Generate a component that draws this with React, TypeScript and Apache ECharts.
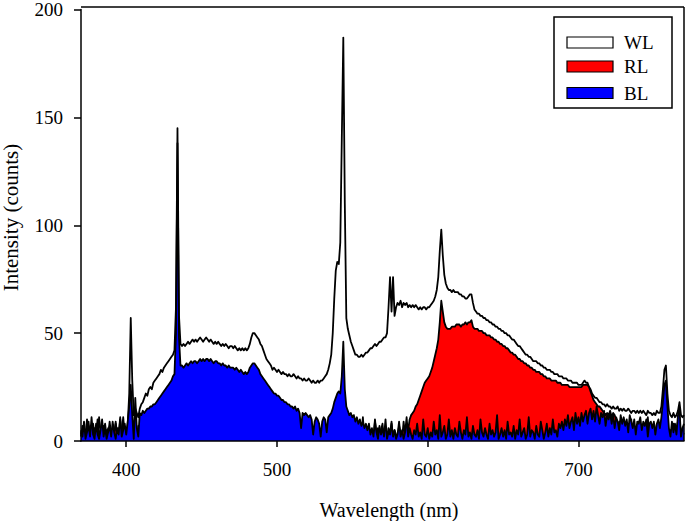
import React, { useEffect, useRef } from "react";
import * as echarts from "echarts";

// wavelength grid: first sample (nm) and step (nm)
const startNm = 370;
const stepNm = 1;
const xMin = 370;
const xMax = 770;
const xTicks = [400, 500, 600, 700];
const yMin = 0;
const yMax = 200;
const yStep = 50;
const seriesNames = ["WL", "RL", "BL"];
const xTitle = "Wavelength (nm)";
const yTitle = "Intensity (counts)";

// WL intensity, one value per nm from 370 to 770
const WL = [
  4, 1, 6, 3, 10, 2, 5, 1, 8, 3, // 370
  6, 2, 11, 4, 1, 7, 3, 5, 2, 9, // 380
  3, 6, 1, 8, 4, 2, 10, 3, 5, 2, // 390
  3, 8, 22, 57, 28, 12, 15, 13, 11, 15, // 400
  17, 18, 20, 22, 21, 24, 25, 24, 27, 28, // 410
  29, 30, 31, 33, 32, 34, 35, 36, 37, 38, // 420
  39, 40, 42, 62, 145, 58, 45, 44, 45, 44, // 430
  45, 46, 45, 46, 47, 46, 47, 46, 47, 48, // 440
  47, 46, 47, 48, 47, 46, 47, 46, 45, 46, // 450
  45, 46, 45, 44, 45, 44, 45, 44, 43, 44, // 460
  44, 43, 44, 43, 42, 43, 42, 43, 42, 43, // 470
  42, 43, 45, 48, 50, 50, 49, 48, 47, 45, // 480
  44, 42, 40, 38, 37, 36, 35, 33, 34, 33, // 490
  32, 33, 32, 31, 32, 31, 31, 30, 31, 30, // 500
  30, 31, 30, 29, 30, 29, 29, 28, 29, 28, // 510
  28, 29, 28, 27, 28, 27, 27, 28, 27, 28, // 520
  28, 29, 30, 31, 33, 36, 40, 50, 66, 79, // 530
  83, 82, 92, 140, 187, 110, 57, 52, 49, 46, // 540
  44, 42, 40, 40, 39, 39, 40, 39, 40, 41, // 550
  41, 42, 43, 43, 44, 45, 44, 45, 46, 46, // 560
  47, 48, 48, 50, 62, 76, 60, 76, 58, 62, // 570
  64, 63, 65, 62, 64, 63, 64, 62, 63, 62, // 580
  63, 62, 63, 62, 61, 62, 61, 62, 62, 61, // 590
  62, 62, 63, 64, 65, 67, 70, 76, 88, 98, // 600
  86, 77, 73, 71, 70, 70, 69, 70, 69, 69, // 610
  69, 68, 68, 67, 67, 66, 66, 67, 68, 68, // 620
  64, 61, 60, 59, 59, 58, 58, 57, 57, 56, // 630
  56, 55, 55, 54, 54, 53, 53, 52, 52, 51, // 640
  51, 50, 50, 49, 49, 48, 47, 47, 46, 45, // 650
  44, 44, 43, 42, 41, 40, 40, 39, 39, 38, // 660
  37, 37, 37, 36, 36, 35, 35, 34, 34, 33, // 670
  33, 33, 32, 32, 31, 31, 31, 30, 30, 30, // 680
  29, 29, 29, 28, 28, 28, 27, 27, 27, 27, // 690
  26, 26, 26, 27, 28, 27, 27, 25, 24, 22, // 700
  21, 20, 20, 19, 18, 18, 17, 17, 16, 17, // 710
  16, 16, 15, 16, 15, 15, 16, 14, 15, 14, // 720
  15, 14, 14, 15, 14, 13, 14, 14, 13, 14, // 730
  13, 14, 13, 14, 13, 12, 14, 13, 13, 12, // 740
  13, 12, 14, 13, 13, 16, 24, 33, 35, 22, // 750
  14, 12, 11, 13, 11, 12, 14, 18, 12, 11, // 760
  12, // 770
];

// RL intensity, one value per nm from 370 to 770
const RL = [
  2, 7, 3, 1, 5, 9, 2, 4, 1, 6, // 370
  3, 10, 2, 5, 1, 4, 8, 2, 6, 3, // 380
  1, 5, 3, 9, 2, 6, 1, 4, 11, 3, // 390
  5, 2, 12, 20, 6, 2, 4, 1, 7, 3, // 400
  2, 5, 1, 8, 3, 4, 1, 6, 2, 9, // 410
  3, 1, 5, 2, 7, 4, 1, 3, 6, 2, // 420
  4, 1, 7, 12, 30, 9, 3, 1, 5, 2, // 430
  6, 3, 1, 4, 8, 2, 5, 1, 3, 7, // 440
  2, 4, 1, 9, 3, 5, 2, 6, 1, 4, // 450
  7, 2, 3, 1, 5, 10, 2, 4, 1, 6, // 460
  3, 5, 2, 8, 1, 4, 6, 2, 3, 9, // 470
  1, 4, 2, 6, 3, 7, 1, 5, 2, 4, // 480
  8, 2, 5, 1, 3, 6, 2, 10, 4, 1, // 490
  5, 3, 7, 2, 4, 1, 9, 3, 6, 2, // 500
  4, 1, 8, 3, 5, 2, 6, 1, 4, 10, // 510
  2, 5, 3, 7, 1, 4, 9, 2, 6, 3, // 520
  1, 6, 4, 2, 8, 3, 5, 1, 7, 4, // 530
  12, 9, 8, 14, 20, 11, 6, 3, 8, 2, // 540
  5, 1, 9, 3, 6, 2, 4, 11, 1, 5, // 550
  3, 7, 2, 4, 1, 10, 3, 6, 2, 5, // 560
  8, 1, 4, 2, 6, 3, 9, 1, 5, 3, // 570
  2, 7, 4, 1, 9, 3, 6, 5, 10, 12, // 580
  13, 14, 16, 17, 19, 21, 23, 25, 27, 28, // 590
  29, 30, 32, 34, 37, 40, 43, 47, 55, 65, // 600
  60, 55, 53, 52, 52, 52, 53, 53, 53, 54, // 610
  54, 54, 53, 54, 54, 55, 54, 55, 55, 56, // 620
  53, 52, 52, 52, 51, 51, 51, 50, 50, 49, // 630
  49, 49, 48, 48, 47, 47, 46, 46, 45, 45, // 640
  44, 44, 43, 43, 42, 41, 41, 40, 40, 39, // 650
  38, 38, 37, 37, 36, 36, 35, 35, 34, 34, // 660
  33, 33, 32, 32, 32, 31, 31, 30, 30, 29, // 670
  29, 29, 28, 28, 28, 28, 27, 27, 27, 26, // 680
  26, 26, 26, 26, 25, 25, 25, 25, 25, 25, // 690
  25, 25, 25, 26, 26, 26, 26, 25, 23, 21, // 700
  19, 18, 17, 16, 16, 15, 14, 13, 12, 13, // 710
  12, 14, 11, 13, 12, 10, 6, 9, 3, 7, // 720
  2, 5, 8, 1, 4, 10, 3, 6, 2, 5, // 730
  9, 1, 4, 2, 7, 3, 11, 2, 5, 1, // 740
  6, 3, 8, 2, 4, 1, 9, 14, 16, 7, // 750
  2, 5, 1, 8, 3, 6, 9, 11, 2, 4, // 760
  3, // 770
];

// BL intensity, one value per nm from 370 to 770
const BL = [
  5, 2, 9, 1, 4, 7, 2, 11, 3, 1, // 370
  8, 3, 1, 5, 10, 2, 6, 1, 4, 7, // 380
  2, 9, 4, 1, 6, 3, 11, 2, 5, 8, // 390
  3, 9, 16, 26, 12, 1, 20, 6, 2, 13, // 400
  12, 14, 13, 14, 15, 15, 16, 16, 17, 17, // 410
  18, 19, 20, 21, 22, 23, 24, 25, 26, 27, // 420
  28, 30, 31, 50, 138, 48, 35, 35, 34, 35, // 430
  36, 35, 36, 37, 36, 37, 37, 36, 37, 38, // 440
  37, 38, 37, 38, 38, 37, 38, 37, 36, 37, // 450
  37, 36, 36, 35, 36, 35, 35, 34, 35, 34, // 460
  34, 34, 33, 34, 33, 32, 33, 32, 31, 32, // 470
  31, 32, 34, 35, 36, 36, 35, 34, 33, 31, // 480
  30, 29, 28, 27, 26, 25, 24, 23, 22, 22, // 490
  21, 21, 20, 19, 19, 18, 18, 17, 17, 16, // 500
  16, 15, 16, 14, 15, 13, 6, 13, 12, 13, // 510
  12, 11, 12, 10, 3, 9, 11, 10, 8, 2, // 520
  9, 11, 10, 4, 11, 12, 13, 15, 18, 20, // 530
  22, 23, 22, 30, 46, 24, 16, 14, 12, 13, // 540
  11, 12, 9, 11, 8, 10, 7, 9, 6, 8, // 550
  5, 8, 3, 6, 2, 9, 4, 1, 7, 3, // 560
  6, 2, 10, 1, 4, 3, 8, 2, 5, 1, // 570
  3, 9, 2, 5, 1, 4, 11, 2, 6, 3, // 580
  1, 5, 3, 8, 2, 4, 1, 10, 3, 2, // 590
  6, 1, 4, 2, 9, 3, 5, 1, 12, 2, // 600
  4, 7, 1, 3, 10, 2, 5, 1, 6, 3, // 610
  2, 9, 4, 1, 5, 3, 11, 2, 4, 1, // 620
  7, 3, 2, 5, 1, 10, 4, 2, 6, 3, // 630
  1, 8, 3, 5, 2, 4, 12, 1, 3, 6, // 640
  2, 5, 1, 9, 3, 4, 2, 7, 1, 5, // 650
  3, 10, 2, 4, 6, 1, 3, 11, 2, 5, // 660
  4, 1, 7, 3, 2, 9, 5, 1, 4, 8, // 670
  2, 6, 3, 10, 4, 5, 2, 8, 6, 9, // 680
  5, 10, 7, 12, 6, 9, 11, 5, 13, 8, // 690
  11, 7, 13, 9, 12, 14, 8, 13, 15, 10, // 700
  14, 9, 16, 12, 8, 13, 11, 14, 7, 12, // 710
  10, 13, 8, 12, 6, 11, 9, 5, 12, 8, // 720
  11, 7, 10, 4, 12, 9, 6, 10, 3, 9, // 730
  8, 11, 5, 9, 7, 10, 2, 8, 9, 6, // 740
  9, 3, 8, 10, 6, 11, 18, 26, 28, 16, // 750
  6, 2, 9, 4, 8, 3, 12, 15, 2, 6, // 760
  8, // 770
];

const seriesValues = [WL, RL, BL];
const fills = ["#ffffff", "#ff0000", "#0000ff"];

const FONT = "Liberation Serif, Times New Roman, serif";

export default function App() {
  const ref = useRef<HTMLDivElement>(null);

  useEffect(() => {
    if (!ref.current) return;
    const chart = echarts.init(ref.current, null, { renderer: "svg" });

    const series = seriesNames.map((name, k) => ({
      name,
      type: "line",
      data: seriesValues[k].map((v, i) => [startNm + i * stepNm, v]),
      symbol: "none",
      showSymbol: false,
      silent: true,
      clip: true,
      z: 2 + k,
      lineStyle: { color: "#000", width: 1.8, join: "round" },
      itemStyle: { color: fills[k] },
      areaStyle: { color: fills[k], opacity: 1 },
    }));

    const L = { x: 554, y: 17, w: 118, h: 91 };
    const swY = [37, 61, 87.5];

    chart.setOption({
      animation: false,
      backgroundColor: "#fff",
      grid: { left: 81, top: 7, right: 1, bottom: 80, containLabel: false },
      xAxis: {
        type: "value",
        min: xMin,
        max: xMax,
        z: 10,
        axisLine: { show: true, onZero: false, lineStyle: { color: "#000", width: 1.5 } },
        axisTick: {
          show: true,
          length: 6,
          customValues: xTicks,
          lineStyle: { color: "#000", width: 1.5 },
        },
        axisLabel: {
          customValues: xTicks,
          color: "#000",
          fontSize: 19,
          fontFamily: FONT,
          margin: 19,
        },
        splitLine: { show: false },
      },
      yAxis: {
        type: "value",
        min: yMin,
        max: yMax,
        interval: yStep,
        z: 10,
        axisLine: { show: true, lineStyle: { color: "#000", width: 1.5 } },
        axisTick: { show: true, length: 7, lineStyle: { color: "#000", width: 1.5 } },
        axisLabel: { color: "#000", fontSize: 19, fontFamily: FONT, margin: 18 },
        splitLine: { show: false },
      },
      series,
      graphic: [
        {
          type: "line",
          z: 100,
          shape: { x1: 81, y1: 7, x2: 684, y2: 7 },
          style: { stroke: "#000", lineWidth: 1.5 },
        },
        {
          type: "line",
          z: 100,
          shape: { x1: 684, y1: 7, x2: 684, y2: 441 },
          style: { stroke: "#000", lineWidth: 1.5 },
        },
        {
          type: "rect",
          z: 100,
          shape: { x: L.x, y: L.y, width: L.w, height: L.h },
          style: { fill: "#fff", stroke: "#000", lineWidth: 1.5 },
        },
        ...seriesNames.map((name, k) => ({
          type: "rect",
          z: 101,
          shape: { x: 567, y: swY[k], width: 46, height: 11 },
          style: { fill: fills[k], stroke: "#000", lineWidth: 1.2 },
        })),
        ...seriesNames.map((name, k) => ({
          type: "text",
          z: 101,
          x: 624,
          y: swY[k] + 5.5,
          style: {
            text: name,
            fontSize: 19,
            fontFamily: FONT,
            fill: "#000",
            textAlign: "left",
            textVerticalAlign: "middle",
          },
        })),
        {
          type: "text",
          z: 100,
          x: 389,
          y: 510,
          style: {
            text: xTitle,
            fontSize: 20,
            fontFamily: FONT,
            fill: "#000",
            textAlign: "center",
            textVerticalAlign: "middle",
          },
        },
        {
          type: "text",
          z: 100,
          x: 11,
          y: 217.5,
          rotation: Math.PI / 2,
          style: {
            text: yTitle,
            fontSize: 21,
            fontFamily: FONT,
            fill: "#000",
            textAlign: "center",
            textVerticalAlign: "middle",
          },
        },
      ],
    });

    return () => {
      chart.dispose();
    };
  }, []);

  return (
    <div
      ref={ref}
      style={{ position: "fixed", left: 0, top: 0, width: 685, height: 521 }}
    />
  );
}
